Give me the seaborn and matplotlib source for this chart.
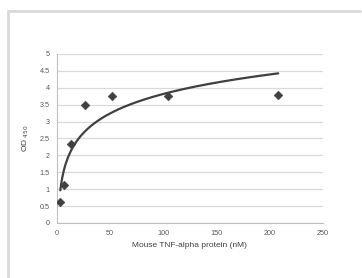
import matplotlib
matplotlib.use("Agg")
import matplotlib.pyplot as plt
import seaborn as sns
import numpy as np
import pandas as pd

conc = [3.25, 6.5, 13, 26, 52, 104, 208]
od450 = [0.62, 1.12, 2.35, 3.5, 3.75, 3.75, 3.78]

df = pd.DataFrame({"conc": conc, "od": od450})

# logarithmic trendline, as a spreadsheet would fit it
a, b = np.polyfit(np.log(df["conc"]), df["od"], 1)
xs = np.linspace(min(conc), max(conc), 200)
trend = pd.DataFrame({"conc": xs, "od": a * np.log(xs) + b})

sns.set_style("white")
plt.rcParams["font.family"] = ["Liberation Sans", "DejaVu Sans"]

fig = plt.figure(figsize=(3.62, 2.78), dpi=100)
ax = fig.add_axes([0.157, 0.198, 0.735, 0.608])

# outer chart frame (only top and left edges are visible)
frame_x, frame_y = 7.5 / 362, 1 - 10.5 / 278
fig.add_artist(plt.Line2D([frame_x, 360 / 362], [frame_y, frame_y],
                          transform=fig.transFigure, color="#d9d9d9", linewidth=2))
fig.add_artist(plt.Line2D([frame_x, frame_x], [0, frame_y],
                          transform=fig.transFigure, color="#d9d9d9", linewidth=2))

sns.lineplot(data=trend, x="conc", y="od", ax=ax, color="#404040", linewidth=1.6)
sns.scatterplot(data=df, x="conc", y="od", ax=ax, marker="D", s=20,
                color="#404040", edgecolor="#404040", zorder=3)

ax.set_xlim(0, 250)
ax.set_ylim(0, 5)
ax.set_xticks(np.arange(0, 251, 50))
ax.set_yticks(np.arange(0, 5.01, 0.5))
ax.set_yticklabels([f"{v:g}" for v in np.arange(0, 5.01, 0.5)])
ax.yaxis.grid(True, color="#d9d9d9", linewidth=0.9)
ax.xaxis.grid(False)
for s in ["top", "right"]:
    ax.spines[s].set_visible(False)
for s in ["left", "bottom"]:
    ax.spines[s].set_color("#bfbfbf")
    ax.spines[s].set_linewidth(0.8)
ax.tick_params(axis="both", labelsize=5.2, colors="#595959", length=3,
               width=0.6, direction="out", pad=2)
ax.tick_params(axis="both", color="#bfbfbf")
ax.set_xlabel("Mouse TNF-alpha protein (nM)", fontsize=6, color="#404040", labelpad=4)
ax.set_ylabel("OD$_{\\ 450}$", fontsize=6, color="#404040", labelpad=6)

fig.savefig("out.png", dpi=100)
